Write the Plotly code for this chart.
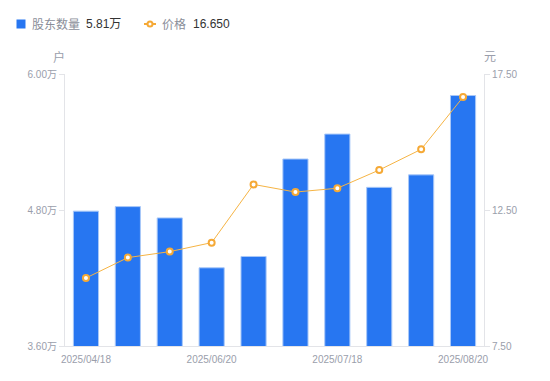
import plotly.graph_objects as go

dates = ["2025/04/18", "2025/05/09", "2025/05/30", "2025/06/20", "2025/06/30",
         "2025/07/10", "2025/07/18", "2025/07/31", "2025/08/10", "2025/08/20"]
holders_wan = [4.79, 4.83, 4.73, 4.29, 4.39, 5.25, 5.47, 5.00, 5.11, 5.81]
price = [10.00, 10.75, 10.97, 11.30, 13.44, 13.16, 13.30, 13.97, 14.73, 16.65]
left_ticks = [3.6, 4.8, 6.0]
right_ticks = [7.5, 12.5, 17.5]
shown_dates = ["2025/04/18", "2025/06/20", "2025/07/18", "2025/08/20"]

FONT = "Liberation Sans, Arial, 'Noto Sans CJK SC', sans-serif"
TICK_C = "#9a9eab"
AXIS_C = "#e3e4e8"
BLUE = "#2776F1"
ORANGE = "#F6B444"

fig = go.Figure()
fig.add_trace(go.Bar(
    x=dates, y=holders_wan, name="股东数量",
    marker=dict(color=BLUE, line=dict(color="#a9c8f8", width=1)),
    yaxis="y", showlegend=False,
))
fig.add_trace(go.Scatter(
    x=dates, y=price, name="价格", mode="lines+markers",
    line=dict(color=ORANGE, width=1),
    marker=dict(color="white", size=6, line=dict(color="#F5A936", width=2)),
    yaxis="y2", showlegend=False,
))

fig.update_layout(
    width=550, height=381,
    margin=dict(l=65, r=66, t=74, b=35),
    paper_bgcolor="white", plot_bgcolor="white",
    font=dict(family=FONT, size=10, color=TICK_C),
    bargap=0.4,
    xaxis=dict(
        type="category", tickvals=shown_dates, ticktext=shown_dates,
        range=[-0.5, len(dates) - 0.5],
        showgrid=False, showline=True, linecolor=AXIS_C, linewidth=1,
        ticks="", tickfont=dict(size=10, color=TICK_C), zeroline=False,
        ticklabelstandoff=4,
    ),
    yaxis=dict(
        range=[3.6, 6.0], tickvals=left_ticks,
        ticktext=[f"{v:.2f}万" for v in left_ticks],
        showgrid=False, showline=True, linecolor=AXIS_C, linewidth=1,
        ticks="outside", ticklen=5, tickcolor=AXIS_C,
        tickfont=dict(size=10, color=TICK_C), zeroline=False,
    ),
    yaxis2=dict(
        range=[7.5, 17.5], tickvals=right_ticks,
        ticktext=[f"{v:.2f}" for v in right_ticks],
        overlaying="y", side="right",
        showgrid=False, showline=True, linecolor=AXIS_C, linewidth=1,
        ticks="outside", ticklen=5, tickcolor=AXIS_C,
        tickfont=dict(size=10, color=TICK_C), zeroline=False,
    ),
)

# axis unit titles
fig.add_annotation(text="户", xref="paper", yref="paper", x=0, y=1, xshift=-6, yshift=17,
                   showarrow=False, font=dict(size=12, color=TICK_C), xanchor="center", yanchor="middle")
fig.add_annotation(text="元", xref="paper", yref="paper", x=1, y=1, xshift=6, yshift=17,
                   showarrow=False, font=dict(size=12, color=TICK_C), xanchor="center", yanchor="middle")

def px_x(px):
    return (px - 65) / (550 - 65 - 66)
def px_y(py):
    return (381 - 35 - py) / (381 - 74 - 35)

# custom legend
fig.add_shape(type="rect", xref="paper", yref="paper",
              x0=px_x(16.5), x1=px_x(25.5), y0=px_y(19.5), y1=px_y(28.5),
              fillcolor=BLUE, line=dict(width=0))
fig.add_annotation(text="股东数量", xref="paper", yref="paper", x=px_x(30), y=px_y(24),
                   xanchor="left", yanchor="middle", showarrow=False,
                   font=dict(size=12, color="#8a8e99"))
fig.add_annotation(text=f"{holders_wan[-1]:.2f}万", xref="paper", yref="paper", x=px_x(84), y=px_y(24),
                   xanchor="left", yanchor="middle", showarrow=False,
                   font=dict(size=12, color="#333333"))
fig.add_shape(type="line", xref="paper", yref="paper",
              x0=px_x(144), x1=px_x(156), y0=px_y(24), y1=px_y(24),
              line=dict(color="#F5A936", width=2))
fig.add_shape(type="circle", xref="paper", yref="paper",
              x0=px_x(147.5), x1=px_x(152.5), y0=px_y(21.5), y1=px_y(26.5),
              fillcolor="white", line=dict(color="#F5A936", width=2))
fig.add_annotation(text="价格", xref="paper", yref="paper", x=px_x(160), y=px_y(24),
                   xanchor="left", yanchor="middle", showarrow=False,
                   font=dict(size=12, color="#8a8e99"))
fig.add_annotation(text=f"{price[-1]:.3f}", xref="paper", yref="paper", x=px_x(191), y=px_y(24),
                   xanchor="left", yanchor="middle", showarrow=False,
                   font=dict(size=12, color="#333333"))

fig.write_html("out.html", config={"displayModeBar": False},
               post_script="document.body.style.margin='0';")
